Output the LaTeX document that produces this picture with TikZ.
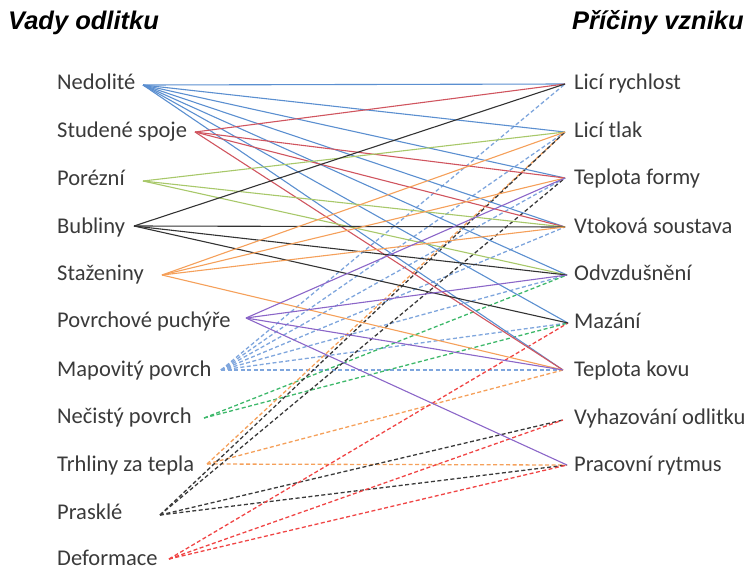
\documentclass[tikz,border=0pt]{standalone}
\usepackage{fontspec}
\setmainfont{Carlito}
\newfontfamily\titlefont{Liberation Sans}
\definecolor{cblue}{HTML}{5B8FD0}
\definecolor{cred}{HTML}{D0555F}
\definecolor{cgreen}{HTML}{A8C86A}
\definecolor{cblack}{HTML}{333333}
\definecolor{corange}{HTML}{F5A05A}
\definecolor{cpurple}{HTML}{8B66C8}
\definecolor{dblue}{HTML}{7FA6DD}
\definecolor{dgreen}{HTML}{3DB86A}
\definecolor{dorange}{HTML}{F5A05A}
\definecolor{dblack}{HTML}{3A3A3A}
\definecolor{dred}{HTML}{F04545}
\definecolor{txt}{HTML}{3A3A3A}
\begin{document}
\begin{tikzpicture}[x=1pt,y=-1pt,
  lbl/.style={anchor=base west,inner sep=0pt,text=txt,font=\fontsize{22.5}{27}\selectfont},
  ttl/.style={anchor=base west,inner sep=0pt,text=black,font=\titlefont\bfseries\itshape\fontsize{25.5}{30}\selectfont},
  ln/.style={line width=1.1pt},
  dl/.style={line width=1.3pt,dash pattern=on 4pt off 2.5pt}]
\useasboundingbox (0,0) rectangle (752,571);
% titles
\node[ttl] (t1) at (8,29) {Vady odlitku};
\node[ttl] (t2) at (572,29) {Příčiny vzniku};
% left labels
\node[lbl] (l1) at (57,89) {Nedolité};
\node[lbl] (l2) at (57,137) {Studené spoje};
\node[lbl] (l3) at (57,185) {Porézní};
\node[lbl] (l4) at (57,233) {Bubliny};
\node[lbl] (l5) at (57,280) {Staženiny};
\node[lbl] (l6) at (57,327) {Povrchové puchýře};
\node[lbl] (l7) at (57,376) {Mapovitý povrch};
\node[lbl] (l8) at (57,423) {Nečistý povrch};
\node[lbl] (l9) at (57,471) {Trhliny za tepla};
\node[lbl] (l10) at (57,519) {Prasklé};
\node[lbl] (l11) at (57,565) {Deformace};
% right labels
\node[lbl] (r1) at (574,89) {Licí rychlost};
\node[lbl] (r2) at (574,137) {Licí tlak};
\node[lbl] (r3) at (574,184) {Teplota formy};
\node[lbl] (r4) at (574,233) {Vtoková soustava};
\node[lbl] (r5) at (574,280) {Odvzdušnění};
\node[lbl] (r6) at (574,328) {Mazání};
\node[lbl] (r7) at (574,376) {Teplota kovu};
\node[lbl] (r8) at (574,424) {Vyhazování odlitku};
\node[lbl] (r9) at (574,471) {Pracovní rytmus};
% anchors
\coordinate (a1) at (143,85);
\coordinate (a2) at (195,132);
\coordinate (a3) at (143,181);
\coordinate (a4) at (134,226);
\coordinate (a5) at (162,275);
\coordinate (a6) at (246,318);
\coordinate (a7) at (221,370);
\coordinate (a8) at (204,418);
\coordinate (a9) at (207,464);
\coordinate (a10) at (160,515);
\coordinate (a11) at (169,559);
\coordinate (b1) at (565,84);
\coordinate (b2) at (565,132);
\coordinate (b3) at (565,178);
\coordinate (b4) at (565,227);
\coordinate (b5) at (567,275);
\coordinate (b6) at (568,323);
\coordinate (b7) at (563,370);
\coordinate (b8) at (563,420);
\coordinate (b9) at (567,465);
% dashed connectors
\foreach \t in {b1,b2,b3,b4,b5,b6,b7} \draw[dl,dblue] (a7) -- (\t);
\foreach \t in {b5,b6} \draw[dl,dgreen] (a8) -- (\t);
\foreach \t in {b2,b7,b9} \draw[dl,dorange] (a9) -- (\t);
\foreach \t in {b2,b3,b8,b9} \draw[dl,dblack] (a10) -- (\t);
\foreach \t in {b6,b8,b9} \draw[dl,dred] (a11) -- (\t);
% solid connectors
\foreach \t in {b1,b2,b3,b4,b5,b6,b7} \draw[ln,cblue] (a1) -- (\t);
\foreach \t in {b1,b3,b4,b7} \draw[ln,cred] (a2) -- (\t);
\foreach \t in {b2,b4,b5} \draw[ln,cgreen] (a3) -- (\t);
\foreach \t in {b1,b4,b5,b6} \draw[ln,cblack] (a4) -- (\t);
\foreach \t in {b2,b3,b4,b7} \draw[ln,corange] (a5) -- (\t);
\foreach \t in {b3,b5,b7,b9} \draw[ln,cpurple] (a6) -- (\t);
\end{tikzpicture}
\end{document}
